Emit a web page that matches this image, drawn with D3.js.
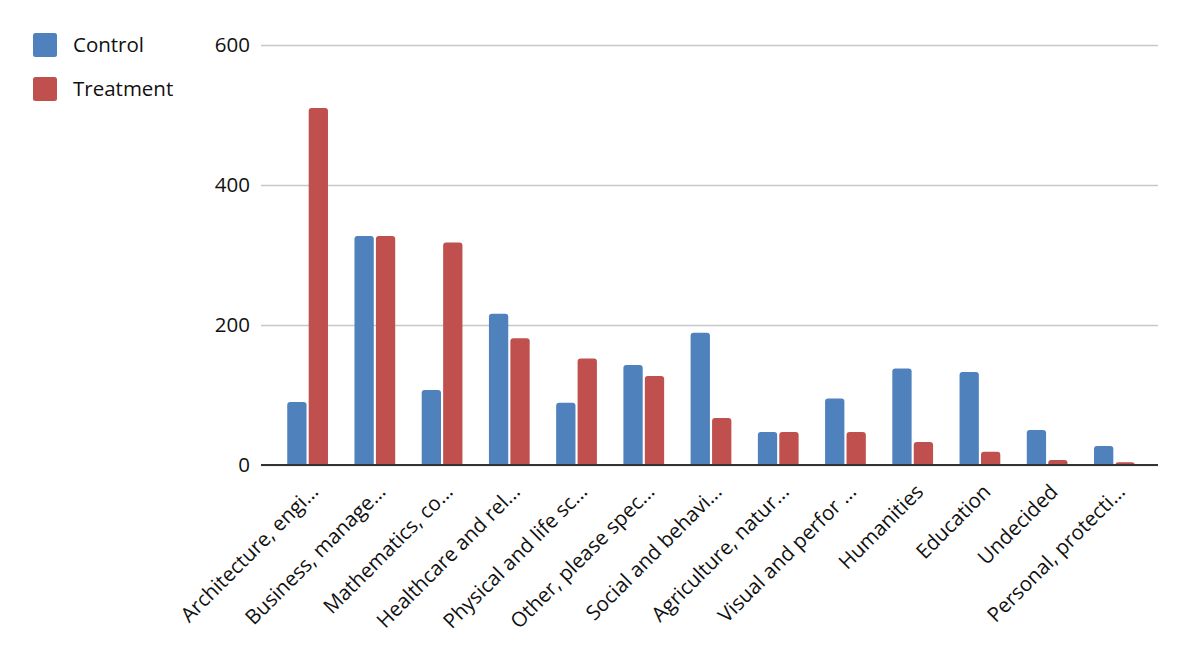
<!DOCTYPE html>
<html><head><meta charset="utf-8">
<script src="https://cdn.jsdelivr.net/npm/d3@7"></script>
<style>body{margin:0;background:#fff;} text{font-family:"Open Sans",sans-serif;fill:#111;}</style>
</head><body><svg id="c" width="1192" height="658"></svg>
<script>
const categories = ["Architecture, engi...","Business, manage...","Mathematics, co...","Healthcare and rel...","Physical and life sc...","Other, please spec...","Social and behavi...","Agriculture, natur...","Visual and perfor ...","Humanities","Education","Undecided","Personal, protecti..."];
const control = [90,327,107,216,89,143,189,47,95,138,133,50,27];
const treatment = [510,327,318,181,152,127,67,47,47,33,19,7,4];
const seriesNames = ["Control","Treatment"];
const colors = ["#4f81bd","#c0504d"];
const yTicks = [0,200,400,600];

const svg = d3.select("#c");
const y = d3.scaleLinear().domain([0,600]).range([465,45]);
const x = d3.scaleBand().domain(categories).range([274,1148]).paddingInner(0.394).paddingOuter(0.197);
const xs = d3.scaleBand().domain(seriesNames).range([0,x.bandwidth()]).paddingInner(0.1);

// gridlines
const yAxis = d3.axisLeft(y).tickValues(yTicks).tickSize(-(1158-261)).tickPadding(11);
const gy = svg.append("g").attr("transform","translate(261,0)").call(yAxis);
gy.select(".domain").remove();
gy.selectAll(".tick line").attr("stroke","#c8c8c8").attr("stroke-width",1.5);
gy.selectAll(".tick text").style("font-size","20.5px").attr("fill","#111");

// bars
const data = categories.map((c,i)=>({c, vals:[control[i],treatment[i]]}));
const groups = svg.append("g").selectAll("g").data(data).join("g")
  .attr("transform",d=>`translate(${x(d.c)},0)`);
function barPath(x0,w,top,bottom,r){
  r=Math.min(r,(bottom-top));
  return `M${x0},${bottom}V${top+r}Q${x0},${top} ${x0+r},${top}H${x0+w-r}Q${x0+w},${top} ${x0+w},${top+r}V${bottom}Z`;
}
groups.selectAll("path").data(d=>d.vals.map((v,j)=>({v,s:seriesNames[j],j}))).join("path")
  .attr("d",d=>barPath(xs(d.s),xs.bandwidth(),y(d.v),y(0),3))
  .attr("fill",d=>colors[d.j]);

// x axis
const xAxis = d3.axisBottom(x).tickSize(0).tickPadding(0);
const gx = svg.append("g").attr("transform",`translate(0,${y(0)})`).call(xAxis);
gx.select(".domain").remove();
svg.append("line").attr("x1",261).attr("x2",1158).attr("y1",y(0)).attr("y2",y(0)).attr("stroke","#333").attr("stroke-width",2);
gx.selectAll(".tick text")
  .style("font-size","20.5px")
  .attr("fill","#111")
  .attr("text-anchor","end")
  .attr("dy",null)
  .attr("transform","translate(12,28) rotate(-45)");

// legend
const lg = svg.append("g").selectAll("g").data(seriesNames).join("g")
  .attr("transform",(d,i)=>`translate(33,${33+i*44})`);
lg.append("rect").attr("width",24).attr("height",24).attr("rx",2.5).attr("fill",(d,i)=>colors[i]);
lg.append("text").attr("x",40).attr("y",12).attr("dy","0.35em").style("font-size","20.5px").text(d=>d);
</script></body></html>
